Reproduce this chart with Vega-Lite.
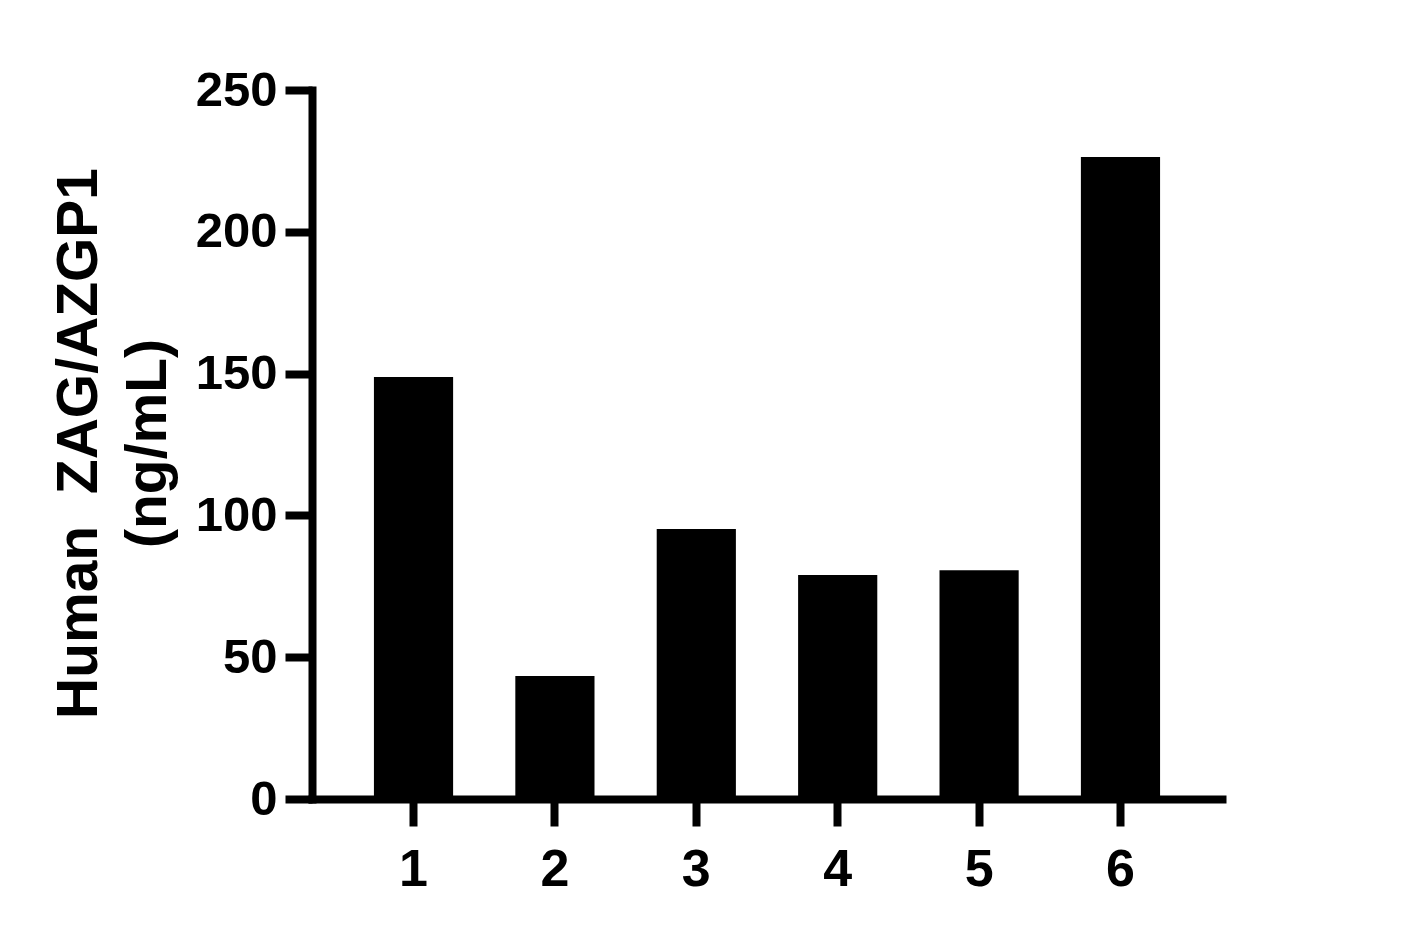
{
  "$schema": "https://vega.github.io/schema/vega-lite/v6.json",
  "autosize": {"type": "none"},
  "width": 910,
  "height": 709,
  "padding": {"left": 312, "top": 90, "right": 181, "bottom": 140},
  "background": "white",
  "config": {
    "view": {"stroke": null},
    "font": "Liberation Sans"
  },
  "data": {
    "values": [
      {"sample": "1", "value": 148.8},
      {"sample": "2", "value": 43.4},
      {"sample": "3", "value": 95.2},
      {"sample": "4", "value": 79.0},
      {"sample": "5", "value": 80.7},
      {"sample": "6", "value": 226.4}
    ]
  },
  "mark": {"type": "bar", "color": "black"},
  "encoding": {
    "x": {
      "field": "sample",
      "type": "nominal",
      "sort": null,
      "scale": {"paddingInner": 0.44, "paddingOuter": 0.438},
      "axis": {
        "title": null,
        "labelAngle": 0,
        "labelFont": "Liberation Sans",
        "labelFontWeight": "bold",
        "labelFontSize": 52,
        "labelColor": "black",
        "labelBaseline": "alphabetic",
        "labelPadding": 59,
        "domainColor": "black",
        "domainWidth": 8,
        "domainCap": "square",
        "tickColor": "black",
        "tickWidth": 8,
        "tickSize": 27,
        "grid": false
      }
    },
    "y": {
      "field": "value",
      "type": "quantitative",
      "scale": {"domain": [0, 250], "nice": false},
      "axis": {
        "title": ["Human\u00a0\u00a0ZAG/AZGP1", "(ng/mL)"],
        "titleFont": "Liberation Sans",
        "titleFontWeight": "bold",
        "titleFontSize": 57,
        "titleColor": "black",
        "titleLineHeight": 69,
        "titleAngle": 270,
        "titleBaseline": "alphabetic",
        "titleAlign": "center",
        "titleX": -216,
        "titleY": 353,
        "values": [0, 50, 100, 150, 200, 250],
        "labelFont": "Liberation Sans",
        "labelFontWeight": "bold",
        "labelFontSize": 49,
        "labelColor": "black",
        "labelPadding": 8,
        "domainColor": "black",
        "domainWidth": 8,
        "domainCap": "square",
        "tickColor": "black",
        "tickWidth": 8,
        "tickSize": 27,
        "grid": false
      }
    }
  }
}
